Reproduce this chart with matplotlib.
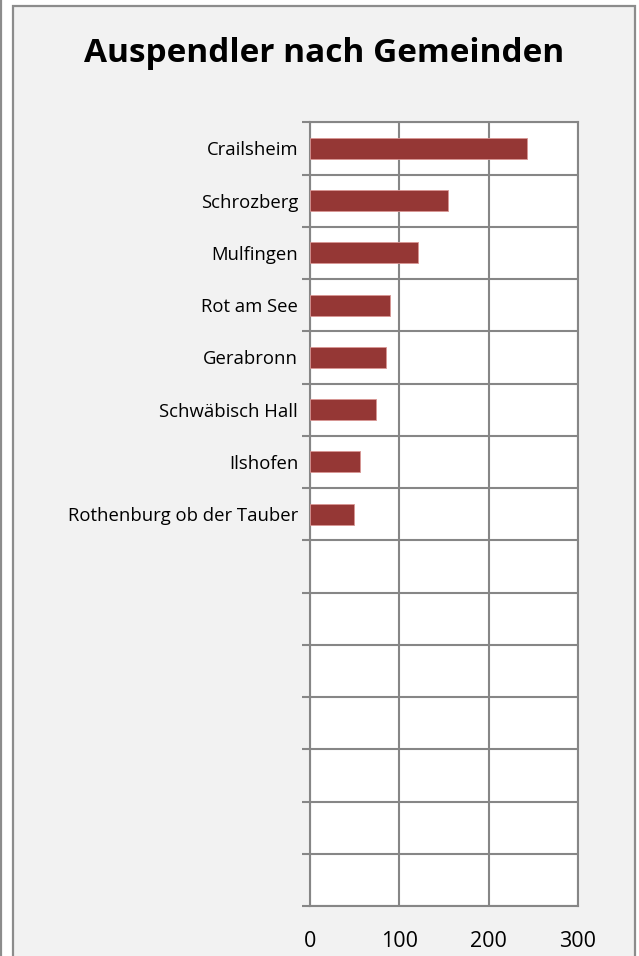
import matplotlib
matplotlib.use("Agg")
import matplotlib.pyplot as plt
from matplotlib.patches import Rectangle
from matplotlib.lines import Line2D
import numpy as np

title = "Auspendler nach Gemeinden"
categories = ["Crailsheim", "Schrozberg", "Mulfingen", "Rot am See", "Gerabronn",
              "Schwäbisch Hall", "Ilshofen", "Rothenburg ob der Tauber"]
values = [243, 155, 121, 90, 85, 74, 56, 49]
n_slots = 15
x_ticks = [0, 100, 200, 300]

W, H = 639, 956
fig = plt.figure(figsize=(W / 100, H / 100), dpi=100)
fig.patch.set_facecolor("white")

def fx(px):
    return px / W

def fy(py):
    return 1 - py / H

# outer frame
fig.add_artist(Rectangle((fx(13), fy(990)), fx(635) - fx(13), fy(6) - fy(990),
                         transform=fig.transFigure, facecolor="#f2f2f2",
                         edgecolor="#8c8c8c", linewidth=1.6, zorder=0))
fig.add_artist(Line2D([fx(1), fx(1)], [0, 1], transform=fig.transFigure,
                      color="#8c8c8c", linewidth=1.6, zorder=0))

left, right, top, bottom = 310, 578, 122.3, 906
ax = fig.add_axes([fx(left), fy(bottom), fx(right) - fx(left), fy(top) - fy(bottom)])
ax.set_facecolor("white")

ypos = np.arange(len(categories)) + 0.5
ax.barh(ypos, values, height=0.4, color="#953735", edgecolor="#d99694",
        linewidth=0.6, zorder=3)

ax.set_xlim(0, 300)
ax.set_ylim(n_slots, 0)
ax.set_xticks(x_ticks)
ax.set_xticklabels([str(t) for t in x_ticks], fontsize=15.5, family="Open Sans")
ax.tick_params(axis="x", length=0, pad=18, colors="black")

ax.set_yticks(ypos)
ax.set_yticklabels(categories, fontsize=13.3, family="Open Sans")
ax.tick_params(axis="y", which="major", length=0, pad=8.5)
ax.set_yticks(np.arange(n_slots + 1), minor=True)
ax.tick_params(axis="y", which="minor", length=6, width=1.5, color="#868686")

ax.grid(True, axis="x", which="major", color="#868686", linewidth=1.5, zorder=1)
ax.grid(True, axis="y", which="minor", color="#868686", linewidth=1.5, zorder=1)
for s in ax.spines.values():
    s.set_color("#868686")
    s.set_linewidth(1.5)

fig.text(fx(324), fy(54), title, ha="center", va="center", fontsize=24,
         fontweight="bold", family="Open Sans")

fig.savefig("out.png", dpi=100, facecolor=fig.get_facecolor())
